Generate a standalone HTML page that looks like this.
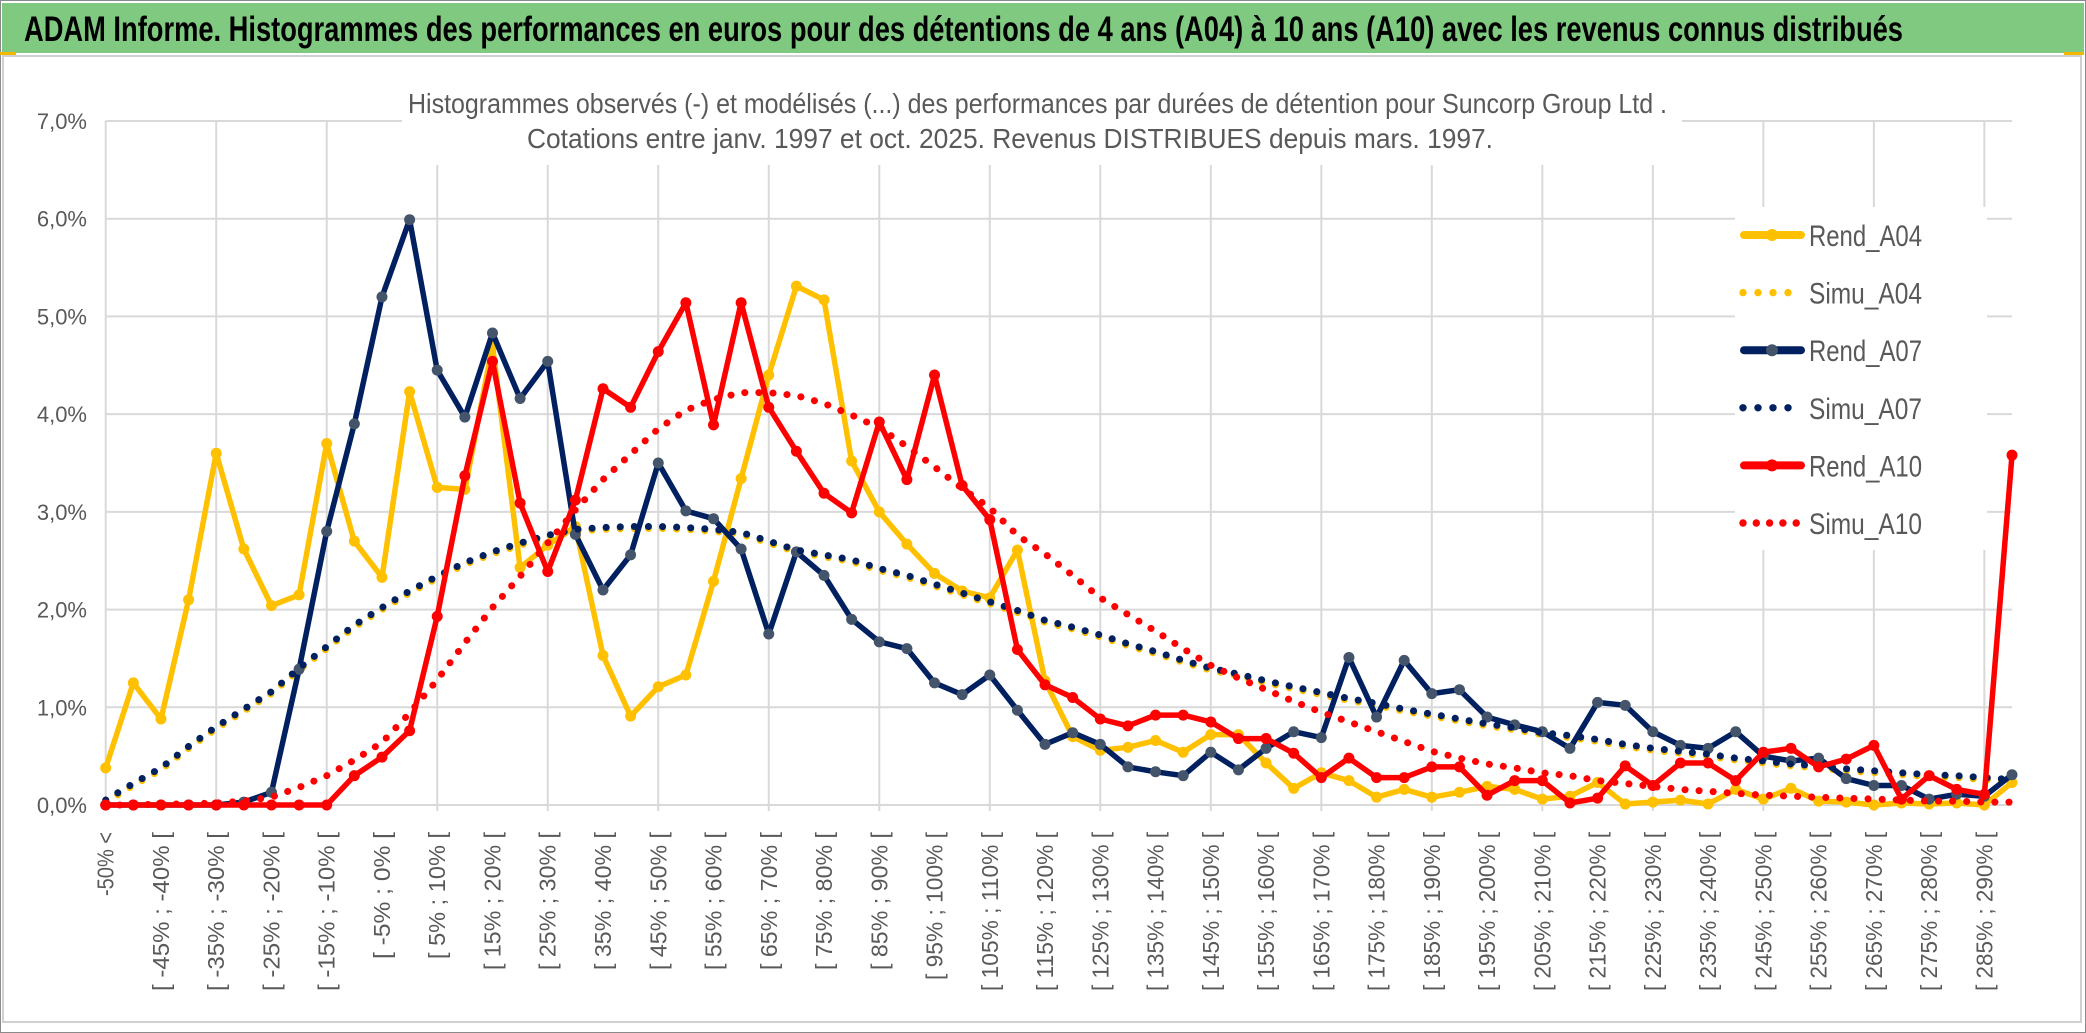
<!DOCTYPE html>
<html><head><meta charset="utf-8"><title>ADAM Informe</title>
<style>
html,body{margin:0;padding:0;background:#fff;}
svg{display:block;font-family:"Liberation Sans",sans-serif;}
</style></head>
<body>
<svg id="chart" width="2086" height="1033" viewBox="0 0 2086 1033" xmlns="http://www.w3.org/2000/svg">
  <rect x="0.5" y="0.5" width="2085" height="1032" fill="#fff" stroke="#8a8a8a" stroke-width="1"/>
  <rect x="2" y="3" width="2082" height="50" fill="#7fca80"/>
  <text x="24" y="41" font-size="35" font-weight="bold" fill="#000" textLength="1879" lengthAdjust="spacingAndGlyphs">ADAM Informe. Histogrammes des performances en euros pour des détentions de 4 ans (A04) à 10 ans (A10) avec les revenus connus distribués</text>
  <rect x="0" y="52" width="16" height="3" fill="#f5b800"/>
  <rect x="2064" y="52" width="20" height="3" fill="#f5b800"/>
  <rect x="3" y="56" width="2078" height="966" fill="#fff" stroke="#d0d0d0" stroke-width="2"/>
  <g id="grid"></g>
  <rect x="402" y="60" width="1280" height="105" fill="#fff"/>
  <rect x="1735" y="207" width="252" height="343" fill="#fff"/>
  <text x="408" y="113" font-size="28" fill="#595959" textLength="1259" lengthAdjust="spacingAndGlyphs">Histogrammes observés (-) et modélisés (...) des performances par durées de détention pour Suncorp Group Ltd .</text>
  <text x="527" y="148" font-size="28" fill="#595959" textLength="966" lengthAdjust="spacingAndGlyphs">Cotations entre janv. 1997 et oct. 2025. Revenus DISTRIBUES depuis mars. 1997.</text>
  <g id="yaxis"></g>
  <g id="xaxis"></g>
  <g id="series"></g>
  <g id="legend"></g>
</svg>
<script>
const yTicks = [0,1,2,3,4,5,6,7];
const rendA04 = [0.38,1.25,0.88,2.1,3.6,2.62,2.04,2.15,3.7,2.7, 2.33,4.23,3.25,3.23,4.7,2.43,2.66,2.85,1.53,0.91, 1.21,1.33,2.29,3.34,4.4,5.31,5.17,3.52,3.0,2.67, 2.37,2.19,2.12,2.61,1.27,0.7,0.56,0.59,0.66,0.54, 0.72,0.72,0.43,0.17,0.33,0.25,0.08,0.16,0.08,0.13, 0.19,0.16,0.06,0.09,0.23,0.01,0.03,0.05,0.01,0.16, 0.06,0.17,0.04,0.03,0.0,0.02,0.01,0.02,0.0,0.23];
const simuA04 = [0.03,0.2,0.36,0.58,0.78,0.96,1.14,1.38,1.6,1.82, 2.0,2.17,2.32,2.46,2.57,2.66,2.74,2.8,2.82,2.83, 2.83,2.82,2.8,2.77,2.68,2.59,2.54,2.49,2.4,2.33, 2.24,2.15,2.06,1.97,1.87,1.8,1.72,1.63,1.55,1.46, 1.38,1.32,1.25,1.19,1.13,1.07,1.02,0.96,0.91,0.86, 0.81,0.77,0.72,0.69,0.65,0.6,0.56,0.53,0.5,0.46, 0.43,0.4,0.38,0.35,0.33,0.31,0.29,0.28,0.26,0.24];
const rendA07 = [0,0,0,0,0,0.03,0.13,1.39,2.8,3.9, 5.2,5.99,4.45,3.97,4.83,4.16,4.54,2.77,2.2,2.56, 3.5,3.01,2.93,2.62,1.75,2.59,2.35,1.9,1.67,1.6, 1.25,1.13,1.33,0.97,0.62,0.74,0.62,0.39,0.34,0.3, 0.54,0.36,0.58,0.75,0.69,1.51,0.9,1.48,1.14,1.18, 0.9,0.82,0.75,0.58,1.05,1.02,0.75,0.61,0.58,0.75, 0.5,0.45,0.48,0.27,0.2,0.2,0.06,0.11,0.09,0.31];
const simuA07 = [0.05,0.22,0.38,0.6,0.8,0.98,1.16,1.4,1.62,1.84, 2.02,2.19,2.34,2.48,2.59,2.68,2.76,2.82,2.84,2.85, 2.85,2.84,2.82,2.79,2.7,2.61,2.56,2.51,2.42,2.35, 2.26,2.17,2.08,1.99,1.89,1.82,1.74,1.65,1.57,1.48, 1.4,1.34,1.27,1.21,1.15,1.09,1.04,0.98,0.93,0.88, 0.83,0.79,0.74,0.71,0.67,0.62,0.58,0.55,0.52,0.48, 0.45,0.42,0.4,0.37,0.35,0.33,0.31,0.3,0.28,0.26];
const rendA10 = [0,0,0,0,0,0,0,0,0,0.3, 0.49,0.76,1.93,3.37,4.54,3.09,2.39,3.12,4.26,4.07, 4.64,5.14,3.89,5.14,4.07,3.62,3.19,2.99,3.92,3.33, 4.4,3.27,2.92,1.59,1.23,1.1,0.88,0.81,0.92,0.92, 0.85,0.68,0.68,0.53,0.28,0.48,0.28,0.28,0.39,0.39, 0.1,0.25,0.25,0.02,0.07,0.4,0.2,0.43,0.43,0.25, 0.54,0.58,0.39,0.47,0.61,0.06,0.3,0.16,0.11,3.58];
const simuA10 = [0,0,0.01,0.01,0.02,0.04,0.08,0.18,0.3,0.46, 0.64,0.94,1.28,1.66,2.02,2.34,2.68,3.02,3.33,3.59, 3.85,4.04,4.15,4.22,4.22,4.19,4.11,3.99,3.86,3.67, 3.46,3.24,3.04,2.76,2.57,2.35,2.12,1.95,1.78,1.6, 1.43,1.3,1.18,1.06,0.95,0.85,0.75,0.65,0.55,0.48, 0.42,0.38,0.33,0.3,0.25,0.22,0.19,0.16,0.14,0.12, 0.1,0.09,0.08,0.07,0.06,0.05,0.04,0.04,0.03,0.03];
const categories = ["-50% <"];
for (let b = -50; b < 295; b += 5) { categories.push("[ " + b + "% ; " + (b + 5) + "% ["); }

const NS = "http://www.w3.org/2000/svg";
const X0 = 105.7, X1 = 2012, Y0 = 805, Y7 = 121;
const n = categories.length;
function xs(i) { return X0 + i * (X1 - X0) / (n - 1); }
function ys(v) { return Y0 - v * (Y0 - Y7) / 7; }
function mk(tag, attrs, parent) {
  const e = document.createElementNS(NS, tag);
  for (const k in attrs) e.setAttribute(k, attrs[k]);
  parent.appendChild(e);
  return e;
}
const grid = document.getElementById('grid');
yTicks.forEach(t => {
  const l = mk('line', {x1: X0, x2: X1, y1: ys(t), y2: ys(t), stroke: '#d9d9d9', 'stroke-width': 2}, grid);
  
  
});
for (let i = 0; i < n; i += 4) {
  const l = mk('line', {x1: xs(i), x2: xs(i), y1: Y7, y2: Y0 + 6, stroke: '#d9d9d9', 'stroke-width': 2}, grid);
  
  
}
const yaxis = document.getElementById('yaxis');
yTicks.forEach(t => {
  const tx = mk('text', {x: 87, y: ys(t) + 8, 'text-anchor': 'end', 'font-size': 22, fill: '#595959'}, yaxis);
  tx.textContent = t.toFixed(1).replace('.', ',') + '%';
  
  
});
const xaxis = document.getElementById('xaxis');
categories.forEach((c, i) => {
  if (i !== 0 && i % 2 !== 0) return;
  const x = xs(i) + 8;
  const tx = mk('text', {x: 0, y: 0, transform: 'translate(' + x + ',832) rotate(-90)', 'text-anchor': 'end', 'font-size': 23, fill: '#595959', textLength: (c.length * 10.6).toFixed(0), lengthAdjust: 'spacingAndGlyphs'}, xaxis);
  tx.textContent = c;
  
  
});
const seriesG = document.getElementById('series');
function drawSeries(vals, color, dotted, markerColor, name) {
  const g = mk('g', {}, seriesG);
  
  
  const pts = vals.map((v, i) => xs(i).toFixed(1) + ',' + ys(v).toFixed(1)).join(' ');
  const attrs = {points: pts, fill: 'none', stroke: color, 'stroke-linejoin': 'round', 'stroke-linecap': 'round'};
  if (dotted) { attrs['stroke-width'] = 7; attrs['stroke-dasharray'] = '0.1 14'; }
  else { attrs['stroke-width'] = 5.5; }
  const pl = mk('polyline', attrs, g);
  
  
  if (!dotted) {
    vals.forEach((v, i) => {
      const c = mk('circle', {cx: xs(i), cy: ys(v), r: 5.5, fill: markerColor}, g);
      
      
    });
  }
}
drawSeries(rendA04, '#ffc000', false, '#ffc000', 'rend-a04');
drawSeries(simuA04, '#ffc000', true, null, 'simu-a04');
drawSeries(rendA07, '#002060', false, '#44546a', 'rend-a07');
drawSeries(simuA07, '#002060', true, null, 'simu-a07');
drawSeries(rendA10, '#ff0000', false, '#ff0000', 'rend-a10');
drawSeries(simuA10, '#ff0000', true, null, 'simu-a10');

const legendNames = ['Rend_A04','Simu_A04','Rend_A07','Simu_A07','Rend_A10','Simu_A10'];
const legendColors = ['#ffc000','#ffc000','#002060','#002060','#ff0000','#ff0000'];
const legendMarkers = ['#ffc000',null,'#44546a',null,'#ff0000',null];
const legend = document.getElementById('legend');
legendNames.forEach((nm, k) => {
  const y = 235 + k * 57.6;
  const g = mk('g', {}, legend);
  
  
  if (legendMarkers[k]) {
    mk('line', {x1: 1744, x2: 1801, y1: y, y2: y, stroke: legendColors[k], 'stroke-width': 8, 'stroke-linecap': 'round'}, g);
    mk('circle', {cx: 1772, cy: y, r: 6, fill: legendMarkers[k]}, g);
  } else {
    const cnt = k === 5 ? 5 : 4;
    const step = k === 5 ? 13.3 : 15;
    for (let d = 0; d < cnt; d++) mk('circle', {cx: 1743 + d * step, cy: y, r: 3.7, fill: legendColors[k]}, g);
  }
  const t = mk('text', {x: 1809, y: y + 11, 'font-size': 30, fill: '#595959', textLength: 113, lengthAdjust: 'spacingAndGlyphs'}, g);
  t.textContent = nm;
});
</script>
</body></html>
